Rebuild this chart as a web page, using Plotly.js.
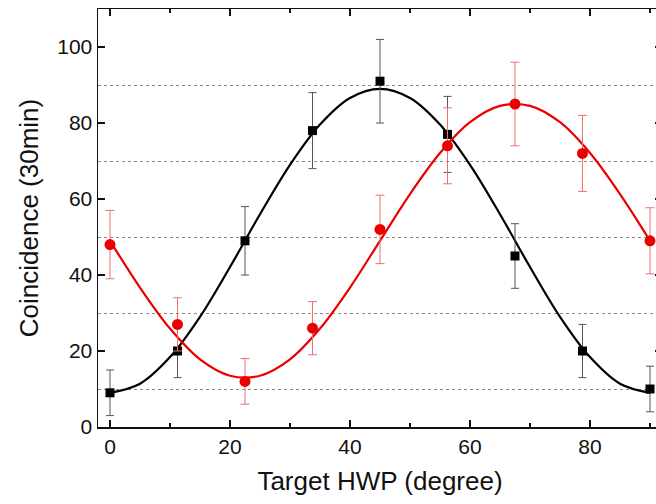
<!DOCTYPE html>
<html>
<head>
<meta charset="utf-8">
<script src="https://cdn.plot.ly/plotly-3.0.1.min.js"></script>
<style>
  html, body { margin:0; padding:0; overflow:hidden; background:#fff; width:656px; height:504px; }
  #chart { width:700px; height:504px; }
</style>
</head>
<body>
<div id="chart"></div>
<script>
// Measured points
const hwpAngles   = [0, 11.25, 22.5, 33.75, 45, 56.25, 67.5, 78.75, 90];
const blackCounts = [9, 20, 49, 78, 91, 77, 45, 20, 10];
const blackErr    = [6, 7, 9, 10, 11, 10, 8.5, 7, 6];
const redCounts   = [48, 27, 12, 26, 52, 74, 85, 72, 49];
const redErr      = [9, 7, 6, 7, 9, 10, 11, 10, 8.7];

// Fit curves
const fitAngles = [0, 5, 10, 15, 20, 25, 30, 35, 40, 45, 50, 55, 60, 65, 70, 75, 80, 85, 90];
const blackFit  = [9, 11.4, 18.4, 29, 42.1, 56, 69, 79.6, 86.6, 89, 86.6, 79.6, 69, 56, 42.1, 29, 18.4, 11.4, 9];
const redFit    = [49, 36.7, 25.9, 17.8, 13.5, 13.5, 17.8, 25.9, 36.7, 49, 61.3, 72.1, 80.2, 84.5, 84.5, 80.2, 72.1, 61.3, 49];

// Axis ticks
const xTicks = [0, 20, 40, 60, 80];
const yTicks = [0, 20, 40, 60, 80, 100];

const RED = 'rgb(235,0,0)';
const FONT = 'Arial, "Liberation Sans", sans-serif';

const traces = [
  { x: fitAngles, y: blackFit, mode: 'lines', line: { color: '#000', width: 2.2, shape: 'spline' }, hoverinfo: 'skip' },
  { x: fitAngles, y: redFit, mode: 'lines', line: { color: RED, width: 2.2, shape: 'spline' }, hoverinfo: 'skip' },
  { x: hwpAngles, y: blackCounts, mode: 'markers',
    marker: { symbol: 'square', size: 9, color: '#000' },
    error_y: { type: 'data', array: blackErr, visible: true, color: '#555', thickness: 1, width: 4 } },
  { x: hwpAngles, y: redCounts, mode: 'markers',
    marker: { symbol: 'circle', size: 11, color: RED },
    error_y: { type: 'data', array: redErr, visible: true, color: 'rgb(240,110,110)', thickness: 1, width: 4.5 } }
];

const layout = {
  width: 700, height: 504,
  margin: { l: 98, r: 38, t: 9, b: 77 },
  paper_bgcolor: '#fff', plot_bgcolor: '#fff',
  showlegend: false,
  font: { family: FONT, size: 21, color: '#111' },
  xaxis: {
    range: [-2, 92],
    tickvals: xTicks, ticktext: xTicks.map(String),
    ticks: 'inside', ticklen: 7, tickwidth: 1.5, tickcolor: '#111',
    minor: { dtick: 10, tick0: 0, ticks: 'inside', ticklen: 4, tickwidth: 1.5, tickcolor: '#111' },
    showline: true, linecolor: '#111', linewidth: 1.5, mirror: 'ticks',
    showgrid: false, zeroline: false,
    tickfont: { family: FONT, size: 21, color: '#111' },
    title: { text: 'Target HWP (degree)', font: { family: FONT, size: 26, color: '#111' }, standoff: 15 }
  },
  yaxis: {
    range: [0, 110],
    tickvals: yTicks, ticktext: yTicks.map(String),
    ticks: 'inside', ticklen: 7, tickwidth: 1.5, tickcolor: '#111',
    minor: { tick0: 10, dtick: 20, ticks: '', showgrid: true, gridcolor: '#8a8a8a', gridwidth: 1, griddash: 'dot' },
    showline: true, linecolor: '#111', linewidth: 1.5, mirror: 'ticks',
    showgrid: false, zeroline: false,
    tickfont: { family: FONT, size: 21, color: '#111' },
    title: { text: 'Coincidence (30min)', font: { family: FONT, size: 26, color: '#111' }, standoff: 11 }
  }
};

Plotly.newPlot('chart', traces, layout, { displayModeBar: false, staticPlot: true });
</script>
</body>
</html>
